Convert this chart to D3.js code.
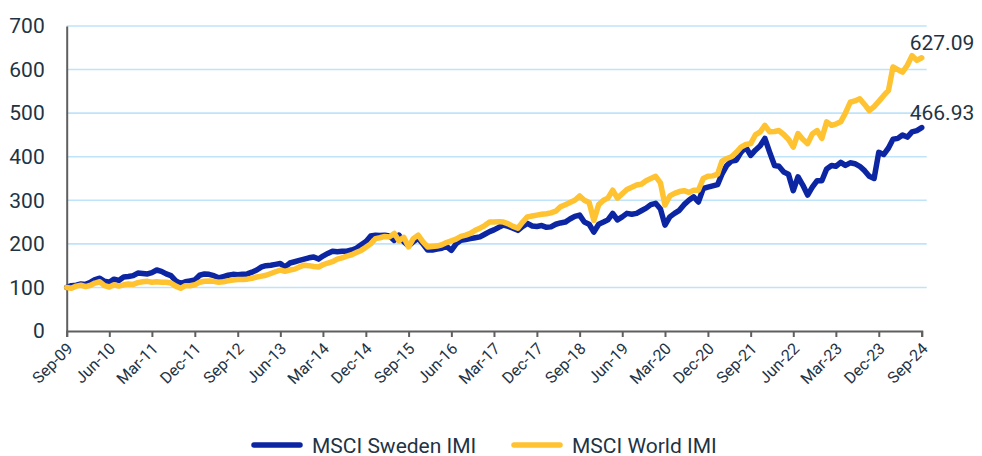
<!DOCTYPE html>
<html>
<head>
<meta charset="utf-8">
<script src="https://cdn.jsdelivr.net/npm/d3@7"></script>
<style>
  body { margin: 0; background: #fff; }
  text { font-family: Roboto, "Noto Sans", sans-serif; fill: #1f3344; }
</style>
</head>
<body>
<div id="graph"></div>
<script>

// monthly index values, Sep-09 = 100, last point Sep-24
var startMonth = new Date(2009, 8, 1);

var swedenValues = [
    100, 104, 105, 108,                                            // 2009 Sep-Dec
    107, 112, 118, 121, 114, 112, 119, 116, 124, 125, 127, 133,   // 2010
    132, 131, 134, 140, 137, 131, 127, 115, 109, 113, 115, 117,   // 2011
    128, 131, 130, 127, 122, 125, 128, 130, 129, 130, 131, 135,   // 2012
    140, 147, 150, 151, 153, 155, 147, 156, 159, 162, 165, 168,   // 2013
    170, 165, 172, 178, 183, 182, 183, 183, 186, 190, 198, 205,   // 2014
    218, 220, 219, 220, 218, 208, 220, 205, 195, 205, 213, 200,   // 2015
    186, 186, 188, 190, 194, 185, 200, 208, 210, 212, 214, 216,   // 2016
    222, 228, 232, 238, 243, 240, 236, 231, 240, 247, 241, 240,   // 2017
    242, 238, 239, 245, 248, 250, 257, 263, 266, 250, 245, 227,   // 2018
    245, 250, 255, 270, 255, 262, 270, 268, 270, 276, 282, 290,   // 2019
    293, 280, 243, 262, 270, 277, 290, 300, 308, 296, 327, 330,   // 2020
    333, 336, 360, 380, 390, 392, 410, 422, 403, 415, 425, 442,   // 2021
    410, 380, 378, 365, 360, 322, 354, 335, 312, 330, 345, 345,   // 2022
    372, 380, 378, 387, 380, 386, 384, 378, 368, 355, 350, 410,   // 2023
    405, 420, 440, 442, 450, 445, 457, 460, 466.93                 // 2024 Jan-Sep
];

var worldValues = [
    100, 98, 103, 105,
    102, 105, 110, 113, 104, 101, 106, 103, 106, 108, 107, 111,
    113, 114, 112, 113, 112, 112, 110, 103, 98, 104, 104, 106,
    112, 114, 115, 114, 112, 113, 115, 117, 118, 118, 119, 121,
    124, 126, 128, 132, 136, 140, 137, 140, 142, 147, 151, 150,
    148, 147, 152, 156, 159, 165, 168, 172, 175, 180, 185, 192,
    200, 212, 214, 217, 216, 224, 207, 215, 193, 212, 220, 205,
    193, 194, 195, 198, 203, 207, 211, 217, 220, 224, 231, 236,
    242, 250, 250, 251, 250, 246, 240, 236, 250, 262, 264, 266,
    268, 269, 271, 275, 285, 290, 295, 300, 310, 300, 295, 254,
    290, 300, 305, 323, 305, 315, 325, 330, 335, 337, 345, 350,
    355, 340, 289, 310, 316, 320, 322, 318, 323, 323, 350, 355,
    356, 360, 390, 396, 400, 410, 422, 428, 430, 450, 457, 472,
    457, 458, 460, 451, 440, 422, 453, 440, 430, 452, 460, 442,
    480, 472, 475, 480, 500, 525, 528, 533, 520, 506, 515, 527,
    540, 552, 606, 600, 594, 610, 632, 621, 627.09
];

var seriesNames = ["MSCI Sweden IMI", "MSCI World IMI"];
var seriesColors = ["#0b25a3", "#ffc230"];
var yTicks = [0, 100, 200, 300, 400, 500, 600, 700];
var tickStepMonths = 9;

function monthDate(i) {
    return new Date(startMonth.getFullYear(), startMonth.getMonth() + i, 1);
}

var series = [swedenValues, worldValues].map(function(vals, k) {
    return {
        name: seriesNames[k],
        color: seriesColors[k],
        values: vals.map(function(v, i) { return {date: monthDate(i), value: v}; })
    };
});

var width = 982, height = 456;
var plotLeft = 66.7, plotRight = 921.7, plotTop = 26, plotBottom = 331;

var svg = d3.select('#graph')
    .append('svg')
    .attr("width", width)
    .attr("height", height);

var lastDate = monthDate(swedenValues.length - 1);

var x = d3.scaleTime()
    .domain([startMonth, lastDate])
    .range([plotLeft, plotRight]);

var y = d3.scaleLinear()
    .domain([0, 700])
    .range([plotBottom, plotTop]);

// gridlines
svg.append("g")
    .selectAll("line")
    .data(yTicks.filter(function(d) { return d > 0; }))
    .join("line")
    .attr("x1", plotLeft)
    .attr("x2", plotRight + 5)
    .attr("y1", function(d) { return y(d); })
    .attr("y2", function(d) { return y(d); })
    .attr("stroke", "#bfe3f8")
    .attr("stroke-width", 1.6);

// Y axis
var yAxis = svg.append("g")
    .attr("transform", "translate(" + plotLeft + ",0)")
    .call(d3.axisLeft(y).tickValues(yTicks).tickSize(0).tickPadding(22));
yAxis.select(".domain").attr("stroke", "#5f5f5f").attr("stroke-width", 2);
yAxis.selectAll("text")
    .style("font-size", "21px")
    .style("font-family", "Roboto, sans-serif")
    .attr("fill", "#1f3344");

// X axis
var xTickDates = d3.range(0, swedenValues.length, tickStepMonths).map(monthDate);
var xAxis = svg.append("g")
    .attr("transform", "translate(0," + plotBottom + ")")
    .call(d3.axisBottom(x).tickValues(xTickDates).tickFormat(d3.timeFormat("%b-%y")).tickSizeOuter(0).tickSize(6));
xAxis.select(".domain").attr("stroke", "#5f5f5f").attr("stroke-width", 2);
xAxis.selectAll(".tick line").attr("stroke", "#5f5f5f").attr("stroke-width", 2);
xAxis.selectAll("text")
    .style("font-size", "16px")
    .style("font-family", "Roboto, sans-serif")
    .attr("fill", "#1f3344")
    .attr("text-anchor", "end")
    .attr("dy", "0.35em")
    .attr("transform", "translate(-3,9) rotate(-45)")
    .attr("x", 0)
    .attr("y", 8);

// lines
var line = d3.line()
    .x(function(d) { return x(d.date); })
    .y(function(d) { return y(d.value); });

svg.append("g")
    .selectAll("path")
    .data(series)
    .join("path")
    .attr("fill", "none")
    .attr("stroke", function(d) { return d.color; })
    .attr("stroke-width", 5.5)
    .attr("stroke-linejoin", "round")
    .attr("stroke-linecap", "round")
    .attr("d", function(d) { return line(d.values); });

// end value labels
svg.append("g")
    .selectAll("text")
    .data(series)
    .join("text")
    .attr("x", function(d) { return x(d.values[d.values.length - 1].date) - 12; })
    .attr("y", function(d) { return y(d.values[d.values.length - 1].value) - 8; })
    .style("font-size", "21px")
    .text(function(d) { return d3.format(".2f")(d.values[d.values.length - 1].value); });

// legend
var legendX = [252, 512];
var legend = svg.append("g")
    .selectAll("g")
    .data(series)
    .join("g")
    .attr("transform", function(d, i) { return "translate(" + legendX[i] + ",445)"; });
legend.append("line")
    .attr("x1", 2).attr("x2", 48)
    .attr("stroke", function(d) { return d.color; })
    .attr("stroke-width", 5.5)
    .attr("stroke-linecap", "round");
legend.append("text")
    .attr("x", 60)
    .attr("y", 7.5)
    .style("font-size", "21px")
    .text(function(d) { return d.name; });

</script>
</body>
</html>
